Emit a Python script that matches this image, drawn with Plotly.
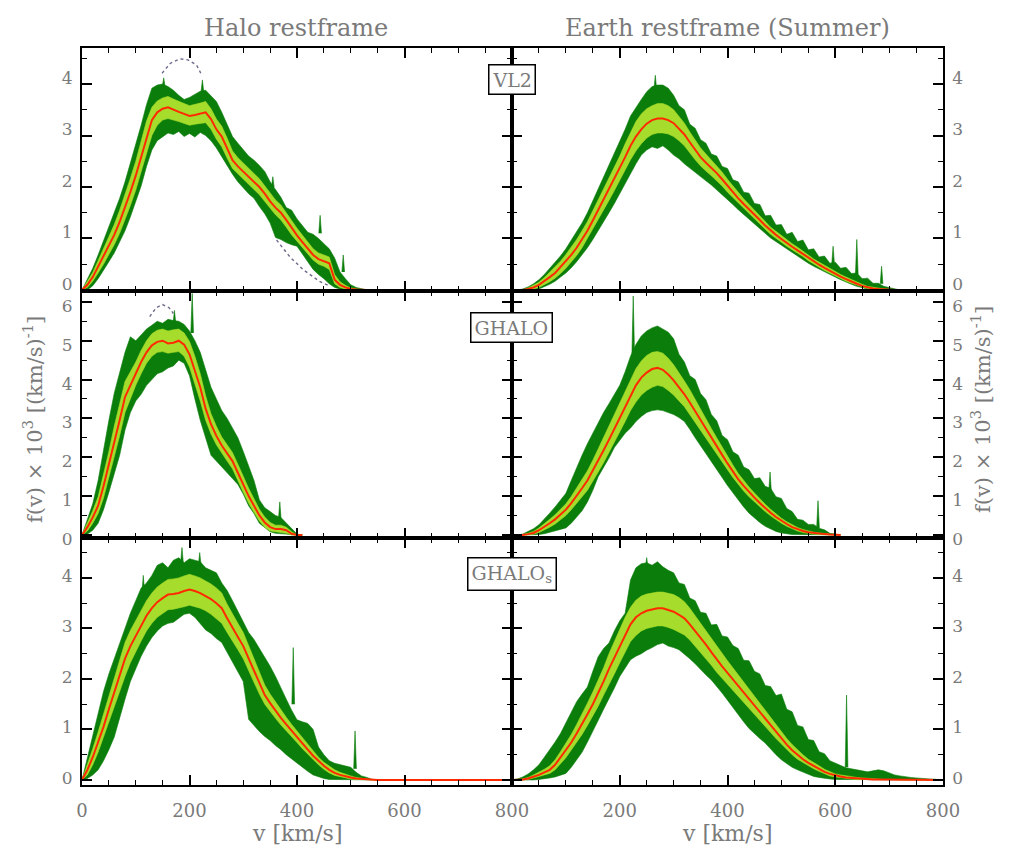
import plotly.graph_objects as go

# velocity grid [km/s]
V = list(range(0, 810, 10))

# ---------------- VL2, halo restframe ----------------
vl2_halo_med = [0.00,0.10,0.25,0.45,0.65,0.85,1.07,1.32,1.60,1.90,
 2.22,2.58,2.98,3.30,3.45,3.52,3.55,3.50,3.46,3.42,
 3.38,3.40,3.43,3.45,3.32,3.12,2.98,2.75,2.52,2.40,
 2.30,2.20,2.10,2.00,1.87,1.72,1.60,1.50,1.36,1.20,
 1.06,0.93,0.80,0.68,0.60,0.56,0.52,0.20,0.10,0.05,
 0.02,0.01,0.00,0.00,0.00]
vl2_halo_in_lo = [0,0.05,0.17,0.33,0.5,0.68,0.88,1.1,1.36,1.64,
 1.94,2.28,2.65,3.0,3.2,3.3,3.33,3.3,3.27,3.24,
 3.2,3.22,3.24,3.25,3.12,2.93,2.78,2.56,2.36,2.25,
 2.15,2.05,1.95,1.85,1.72,1.58,1.46,1.36,1.22,1.07,
 0.94,0.82,0.7,0.58,0.5,0.46,0.4,0.12,0.05,0.02,
 0.01,0,0,0,0]
vl2_halo_in_hi = [0,0.16,0.34,0.57,0.8,1.03,1.27,1.55,1.85,2.17,
 2.5,2.88,3.28,3.55,3.67,3.73,3.76,3.71,3.66,3.62,
 3.58,3.6,3.63,3.66,3.52,3.32,3.18,2.95,2.7,2.57,
 2.46,2.36,2.26,2.16,2.03,1.88,1.75,1.65,1.51,1.35,
 1.2,1.06,0.92,0.8,0.72,0.68,0.64,0.3,0.16,0.09,
 0.04,0.02,0,0,0]
vl2_halo_out_lo = [0,0.0,0.08,0.22,0.38,0.55,0.72,0.93,1.15,1.42,
 1.7,2.02,2.4,2.72,2.9,2.98,3.05,3.02,3.08,2.98,
 3.04,2.97,3.06,3.0,2.9,2.76,2.6,2.42,2.25,2.1,
 1.98,1.87,1.78,1.62,1.48,1.3,1.02,0.98,0.92,0.88,
 0.85,0.7,0.55,0.4,0.3,0.22,0.12,0.05,0.02,0,
 0,0,0,0,0]
vl2_halo_out_hi = [0,0.2,0.42,0.68,0.95,1.2,1.48,1.78,2.1,2.45,
 2.82,3.2,3.6,3.92,3.98,4.0,3.95,3.88,3.78,3.7,
 3.74,3.8,3.86,3.88,3.78,3.66,3.45,3.2,2.98,2.85,
 2.72,2.6,2.52,2.42,2.3,2.1,1.95,1.8,1.6,1.55,
 1.38,1.25,1.12,1.08,1.0,0.9,0.8,0.62,0.35,0.22,
 0.1,0.05,0.02,0,0]
vl2_halo_spike_v = [152, 224, 355, 443, 486]
vl2_halo_spike_base = [3.95, 3.85, 2.0, 1.1, 0.35]
vl2_halo_spike_top = [4.12, 4.08, 2.2, 1.45, 0.68]
vl2_fit_v1 = [149, 164, 182, 197, 213, 221]
vl2_fit_f1 = [4.21, 4.40, 4.49, 4.47, 4.37, 4.21]
vl2_fit_v2 = [362, 387, 412, 443, 460]
vl2_fit_f2 = [0.97, 0.64, 0.39, 0.16, 0.08]

# ---------------- VL2, Earth restframe ----------------
vl2_earth_med = [0,0,0,0.02,0.05,0.1,0.17,0.25,0.33,0.44,
 0.55,0.68,0.82,0.98,1.15,1.35,1.55,1.75,1.95,2.15,
 2.35,2.58,2.8,2.98,3.12,3.23,3.3,3.33,3.33,3.3,
 3.24,3.14,3.02,2.87,2.72,2.58,2.47,2.37,2.27,2.15,
 2.02,1.9,1.78,1.67,1.57,1.46,1.36,1.25,1.15,1.07,
 0.99,0.91,0.84,0.77,0.70,0.62,0.55,0.49,0.43,0.37,
 0.31,0.26,0.21,0.16,0.12,0.08,0.05,0.03,0.02,0.01,
 0,0,0]
vl2_earth_in_lo = [0,0,0,0,0.02,0.05,0.1,0.16,0.23,0.32,
 0.42,0.54,0.67,0.82,0.98,1.17,1.36,1.55,1.74,1.93,
 2.12,2.33,2.53,2.7,2.84,2.95,3.02,3.05,3.05,3.03,
 2.98,2.9,2.8,2.67,2.53,2.41,2.31,2.22,2.13,2.02,
 1.9,1.79,1.68,1.58,1.48,1.38,1.28,1.18,1.08,1.0,
 0.93,0.85,0.78,0.71,0.65,0.57,0.5,0.44,0.38,0.33,
 0.27,0.22,0.17,0.13,0.09,0.06,0.03,0.01,0,0,
 0,0,0]
vl2_earth_in_hi = [0,0,0,0.04,0.09,0.15,0.24,0.34,0.44,0.56,
 0.69,0.83,0.98,1.15,1.33,1.54,1.75,1.96,2.17,2.38,
 2.6,2.84,3.07,3.27,3.42,3.52,3.58,3.62,3.62,3.58,
 3.5,3.38,3.24,3.07,2.91,2.76,2.64,2.53,2.42,2.29,
 2.15,2.02,1.89,1.77,1.66,1.55,1.44,1.33,1.22,1.14,
 1.06,0.97,0.9,0.83,0.76,0.68,0.6,0.54,0.48,0.41,
 0.35,0.3,0.25,0.2,0.15,0.11,0.07,0.05,0.03,0.02,
 0.01,0,0]
vl2_earth_out_lo = [0,0,0,0,0,0.02,0.06,0.11,0.17,0.25,
 0.33,0.43,0.55,0.68,0.82,0.98,1.15,1.32,1.5,1.68,
 1.86,2.05,2.25,2.45,2.62,2.72,2.78,2.75,2.8,2.72,
 2.62,2.55,2.45,2.36,2.28,2.2,2.12,2.04,1.96,1.86,
 1.76,1.66,1.56,1.46,1.37,1.28,1.19,1.1,1.01,0.93,
 0.86,0.79,0.72,0.65,0.59,0.52,0.46,0.4,0.35,0.3,
 0.25,0.2,0.15,0.11,0.07,0.04,0.02,0.01,0,0,
 0,0,0]
vl2_earth_out_hi = [0,0,0.02,0.06,0.12,0.2,0.3,0.42,0.53,0.66,
 0.8,0.96,1.12,1.3,1.5,1.73,1.97,2.2,2.43,2.65,
 2.88,3.12,3.38,3.55,3.7,3.85,3.95,3.98,3.98,3.92,
 3.78,3.58,3.5,3.22,3.14,2.92,2.85,2.64,2.6,2.4,
 2.36,2.14,2.1,1.9,1.88,1.68,1.66,1.44,1.45,1.26,
 1.27,1.08,1.12,0.94,0.97,0.78,0.8,0.64,0.66,0.52,
 0.54,0.42,0.44,0.32,0.33,0.22,0.23,0.13,0.13,0.07,
 0.05,0.02,0.01]
vl2_earth_spike_v = [266, 596, 640, 686]
vl2_earth_spike_base = [3.9, 0.5, 0.3, 0.12]
vl2_earth_spike_top = [4.17, 0.85, 0.98, 0.46]

# ---------------- GHALO, halo restframe ----------------
ghalo_halo_med = [0,0.2,0.45,0.75,1.25,1.8,2.4,2.95,3.55,3.85,
 4.15,4.45,4.7,4.88,4.97,5.0,4.93,4.95,5.0,4.9,
 4.65,4.25,3.8,3.25,2.85,2.55,2.3,2.1,1.9,1.6,
 1.3,1.0,0.75,0.5,0.32,0.2,0.15,0.15,0.12,0.03,
 0,0]
ghalo_halo_in_lo = [0,0.1,0.3,0.55,0.95,1.45,2.0,2.55,3.15,3.5,
 3.85,4.15,4.42,4.6,4.7,4.72,4.68,4.7,4.72,4.6,
 4.32,3.9,3.45,2.95,2.6,2.32,2.1,1.9,1.7,1.4,
 1.1,0.82,0.58,0.36,0.2,0.1,0.07,0.06,0.04,0,
 0,0]
ghalo_halo_in_hi = [0,0.3,0.62,0.98,1.55,2.15,2.8,3.35,3.95,4.2,
 4.45,4.75,5.0,5.18,5.27,5.3,5.25,5.28,5.3,5.2,
 4.98,4.6,4.15,3.58,3.12,2.8,2.52,2.32,2.12,1.82,
 1.5,1.2,0.93,0.66,0.46,0.32,0.25,0.25,0.2,0.08,
 0,0]
ghalo_halo_out_lo = [0,0.02,0.12,0.3,0.65,1.1,1.55,2.05,2.7,3.15,
 3.45,3.62,3.85,4.0,4.15,4.2,4.3,4.35,4.5,4.42,
 4.1,3.5,2.95,2.5,2.05,1.9,1.75,1.6,1.45,1.3,
 1.05,0.75,0.55,0.3,0.18,0.08,0.04,0.03,0.02,0,
 0,0]
ghalo_halo_out_hi = [0,0.4,0.8,1.4,2.2,2.95,3.65,4.15,4.7,5.1,
 5.0,5.15,5.3,5.4,5.5,5.45,5.55,5.52,5.5,5.42,
 5.25,5.0,4.7,4.25,3.8,3.5,3.2,3.0,2.75,2.5,
 2.15,1.75,1.4,0.9,0.7,0.6,0.5,0.45,0.3,0.15,
 0.02,0]
ghalo_halo_spike_v = [172, 205, 368]
ghalo_halo_spike_base = [5.45, 5.2, 0.4]
ghalo_halo_spike_top = [5.78, 6.22, 0.85]
ghalo_fit_v = [126, 138, 150, 162, 170]
ghalo_fit_f = [5.62, 5.85, 5.93, 5.85, 5.70]

# ---------------- GHALO, Earth restframe ----------------
ghalo_earth_med = [0,0,0,0.02,0.05,0.12,0.2,0.3,0.4,0.52,
 0.65,0.82,1.0,1.2,1.4,1.65,1.92,2.18,2.45,2.73,
 3.02,3.32,3.6,3.85,4.05,4.18,4.27,4.3,4.25,4.13,
 3.98,3.81,3.62,3.41,3.18,2.95,2.72,2.5,2.28,2.06,
 1.84,1.63,1.43,1.26,1.1,0.96,0.82,0.69,0.57,0.46,
 0.36,0.28,0.2,0.14,0.1,0.07,0.05,0.03,0.02,0.01,
 0.01,0]
ghalo_earth_in_lo = [0,0,0,0,0.02,0.06,0.12,0.2,0.28,0.38,
 0.5,0.65,0.8,0.98,1.15,1.38,1.62,1.86,2.12,2.38,
 2.65,2.92,3.2,3.42,3.6,3.72,3.8,3.85,3.82,3.72,
 3.6,3.45,3.3,3.1,2.9,2.7,2.48,2.28,2.08,1.88,
 1.68,1.48,1.3,1.13,0.98,0.85,0.72,0.6,0.49,0.39,
 0.3,0.22,0.15,0.1,0.06,0.04,0.02,0.01,0,0,
 0,0]
ghalo_earth_in_hi = [0,0,0.01,0.04,0.09,0.18,0.28,0.4,0.52,0.66,
 0.8,0.99,1.2,1.42,1.65,1.92,2.22,2.5,2.8,3.1,
 3.4,3.72,4.02,4.28,4.48,4.62,4.7,4.72,4.68,4.55,
 4.38,4.18,3.96,3.74,3.48,3.22,2.98,2.74,2.5,2.26,
 2.02,1.8,1.58,1.4,1.23,1.08,0.93,0.79,0.66,0.54,
 0.43,0.34,0.26,0.19,0.14,0.1,0.07,0.05,0.03,0.02,
 0.01,0]
ghalo_earth_out_lo = [0,0,0,0,0,0.01,0.03,0.06,0.1,0.14,
 0.18,0.3,0.45,0.62,0.85,1.15,1.5,1.75,1.98,2.25,
 2.45,2.62,2.75,2.92,3.05,3.15,3.2,3.22,3.2,3.15,
 3.1,3.02,2.92,2.72,2.5,2.27,2.08,1.88,1.68,1.48,
 1.27,1.07,0.9,0.72,0.56,0.44,0.32,0.22,0.15,0.09,
 0.05,0.03,0.01,0,0,0,0,0,0,0,
 0,0]
ghalo_earth_out_hi = [0,0,0.02,0.08,0.16,0.26,0.4,0.56,0.72,0.9,
 1.07,1.4,1.75,2.05,2.35,2.62,2.9,3.15,3.38,3.62,
 3.85,4.2,4.6,4.9,5.12,5.25,5.33,5.38,5.3,5.22,
 5.05,4.65,4.45,4.1,4.0,3.64,3.48,3.1,2.94,2.56,
 2.45,2.14,2.05,1.75,1.68,1.45,1.47,1.25,1.2,0.98,
 0.94,0.68,0.6,0.4,0.38,0.27,0.27,0.17,0.13,0.04,
 0.02,0]
ghalo_earth_spike_v = [225, 479, 568]
ghalo_earth_spike_base = [4.6, 1.1, 0.18]
ghalo_earth_spike_top = [6.15, 1.62, 0.88]

# ---------------- GHALO_s, halo restframe ----------------
ghalos_halo_med = [0,0.2,0.45,0.75,1.05,1.4,1.75,2.08,2.4,2.65,
 2.85,3.05,3.25,3.4,3.52,3.6,3.67,3.68,3.7,3.74,
 3.77,3.74,3.7,3.64,3.58,3.5,3.4,3.2,3.0,2.83,
 2.65,2.4,2.15,1.9,1.68,1.52,1.37,1.23,1.1,0.97,
 0.85,0.72,0.6,0.48,0.37,0.28,0.2,0.14,0.1,0.07,
 0.05,0.03,0.02,0.01,0,0,0,0,0,0,
 0,0,0,0,0,0,0,0,0,0,
 0,0,0,0,0,0,0,0,0,0,0]
ghalos_halo_in_lo = [0,0.1,0.3,0.55,0.82,1.12,1.45,1.75,2.05,2.32,
 2.55,2.75,2.95,3.1,3.22,3.3,3.37,3.38,3.4,3.43,
 3.46,3.43,3.4,3.35,3.28,3.2,3.1,2.92,2.74,2.58,
 2.4,2.17,1.93,1.7,1.5,1.35,1.22,1.09,0.97,0.85,
 0.74,0.62,0.51,0.4,0.3,0.21,0.14,0.09,0.06,0.04,
 0.02,0.01,0,0,0,0]
ghalos_halo_in_hi = [0,0.3,0.62,0.95,1.3,1.68,2.05,2.4,2.72,2.96,
 3.15,3.35,3.55,3.7,3.82,3.9,3.97,3.98,4.0,4.04,
 4.07,4.04,4.0,3.94,3.88,3.8,3.7,3.48,3.28,3.1,
 2.92,2.65,2.38,2.12,1.88,1.7,1.54,1.38,1.24,1.1,
 0.97,0.83,0.7,0.57,0.45,0.35,0.27,0.2,0.15,0.11,
 0.08,0.05,0.03,0.01,0,0]
ghalos_halo_out_lo = [0,0.03,0.1,0.2,0.38,0.6,0.85,1.2,1.6,1.95,
 2.2,2.45,2.65,2.82,2.95,3.05,3.1,3.12,3.2,3.28,
 3.3,3.22,3.1,2.97,2.9,2.8,2.72,2.55,2.35,2.15,
 1.95,1.2,1.08,0.96,0.86,0.78,0.68,0.6,0.5,0.42,
 0.33,0.25,0.17,0.1,0.06,0.03,0.01,0,0,0,
 0,0,0,0,0,0]
ghalos_halo_out_hi = [0,0.45,0.9,1.35,1.75,2.1,2.4,2.7,3.0,3.3,
 3.55,3.8,3.9,4.05,4.25,4.3,4.2,4.35,4.4,4.3,
 4.38,4.35,4.32,4.2,4.15,4.1,3.9,3.75,3.55,3.35,
 3.15,2.92,2.78,2.6,2.44,2.25,2.05,1.84,1.6,1.38,
 1.19,1.15,1.12,1.0,0.65,0.5,0.38,0.33,0.3,0.28,
 0.25,0.15,0.08,0.05,0.01,0]
ghalos_halo_spike_v = [114, 186, 219, 393, 508]
ghalos_halo_spike_base = [3.7, 4.3, 4.25, 1.5, 0.22]
ghalos_halo_spike_top = [4.05, 4.6, 4.5, 2.62, 0.97]

# ---------------- GHALO_s, Earth restframe ----------------
ghalos_earth_med = [0,0,0.01,0.03,0.06,0.1,0.15,0.2,0.3,0.44,
 0.58,0.74,0.92,1.1,1.3,1.5,1.72,1.95,2.2,2.42,
 2.65,2.88,3.08,3.22,3.3,3.35,3.38,3.4,3.4,3.37,
 3.33,3.27,3.2,3.08,2.95,2.82,2.68,2.53,2.38,2.25,
 2.12,1.99,1.86,1.72,1.6,1.47,1.34,1.22,1.08,0.95,
 0.82,0.7,0.59,0.49,0.41,0.34,0.28,0.22,0.16,0.12,
 0.09,0.07,0.05,0.04,0.03,0.02,0.02,0.01,0.01,0.01,
 0,0,0,0,0,0,0,0,0,0,0]
ghalos_earth_in_lo = [0,0,0,0.01,0.03,0.06,0.1,0.13,0.2,0.32,
 0.44,0.58,0.74,0.9,1.08,1.26,1.46,1.68,1.9,2.1,
 2.32,2.54,2.74,2.86,2.95,3.0,3.03,3.05,3.05,3.02,
 2.98,2.93,2.87,2.77,2.65,2.53,2.4,2.27,2.13,2.01,
 1.89,1.77,1.65,1.52,1.41,1.29,1.17,1.06,0.94,0.82,
 0.7,0.6,0.5,0.41,0.34,0.28,0.22,0.17,0.12,0.08,
 0.06,0.04,0.03,0.02,0.01,0.01,0,0,0,0,
 0,0,0,0,0,0,0,0,0,0,0]
ghalos_earth_in_hi = [0,0,0.02,0.05,0.1,0.15,0.21,0.28,0.4,0.56,
 0.72,0.9,1.1,1.3,1.52,1.74,1.98,2.22,2.5,2.74,
 2.98,3.22,3.42,3.56,3.64,3.68,3.7,3.72,3.72,3.7,
 3.67,3.61,3.53,3.4,3.25,3.11,2.96,2.8,2.64,2.5,
 2.36,2.22,2.08,1.93,1.8,1.66,1.52,1.39,1.23,1.09,
 0.95,0.82,0.7,0.59,0.5,0.41,0.35,0.28,0.21,0.16,
 0.12,0.1,0.08,0.06,0.05,0.04,0.03,0.02,0.02,0.01,
 0.01,0,0,0,0,0,0,0,0,0,0]
ghalos_earth_out_lo = [0,0,0,0,0,0.01,0.02,0.04,0.06,0.09,
 0.13,0.25,0.4,0.55,0.75,0.95,1.18,1.4,1.62,1.82,
 2.05,2.22,2.38,2.45,2.5,2.57,2.62,2.68,2.71,2.65,
 2.62,2.58,2.5,2.4,2.3,2.2,2.08,1.98,1.86,1.72,
 1.58,1.45,1.3,1.15,1.02,0.92,0.82,0.73,0.62,0.5,
 0.4,0.32,0.25,0.2,0.16,0.11,0.07,0.05,0.03,0.02,
 0.01,0,0,0,0,0,0,0,0,0,
 0,0,0,0,0,0,0,0,0,0,0]
ghalos_earth_out_hi = [0,0.02,0.06,0.12,0.2,0.3,0.45,0.59,0.75,0.92,
 1.13,1.35,1.55,1.7,1.84,2.15,2.44,2.6,2.71,2.95,
 3.15,3.3,3.96,4.2,4.28,4.3,4.25,4.32,4.22,4.15,
 4.1,3.9,3.87,3.6,3.55,3.32,3.3,3.07,3.08,2.85,
 2.83,2.66,2.6,2.37,2.36,2.15,2.1,1.87,1.85,1.67,
 1.7,1.4,1.35,1.08,1.05,0.8,0.78,0.56,0.52,0.38,
 0.33,0.28,0.24,0.22,0.2,0.18,0.16,0.18,0.2,0.18,
 0.14,0.1,0.08,0.06,0.05,0.04,0.03,0.03,0.02,0.01,0]
ghalos_earth_spike_v = [250, 621]
ghalos_earth_spike_base = [4.2, 0.25]
ghalos_earth_spike_top = [4.4, 1.68]

# labels
col_titles = ["Halo restframe", "Earth restframe (Summer)"]
row_labels = ["VL2", "GHALO", "GHALO<sub>s</sub>"]
x_title = "v [km/s]"
y_title = "f(v) × 10<sup>3</sup> [(km/s)<sup>-1</sup>]"
x_tickvals = [0, 200, 400, 600, 800]
x_ticktext_left = ["0", "200", "400", "600", "800"]
x_ticktext_right = ["", "200", "400", "600", "800"]
y_tickvals_rows = [[0, 1, 2, 3, 4], [0, 1, 2, 3, 4, 5, 6], [0, 1, 2, 3, 4]]

panels = [
    (vl2_halo_med, vl2_halo_in_lo, vl2_halo_in_hi, vl2_halo_out_lo, vl2_halo_out_hi,
     vl2_halo_spike_v, vl2_halo_spike_base, vl2_halo_spike_top),
    (vl2_earth_med, vl2_earth_in_lo, vl2_earth_in_hi, vl2_earth_out_lo, vl2_earth_out_hi,
     vl2_earth_spike_v, vl2_earth_spike_base, vl2_earth_spike_top),
    (ghalo_halo_med, ghalo_halo_in_lo, ghalo_halo_in_hi, ghalo_halo_out_lo, ghalo_halo_out_hi,
     ghalo_halo_spike_v, ghalo_halo_spike_base, ghalo_halo_spike_top),
    (ghalo_earth_med, ghalo_earth_in_lo, ghalo_earth_in_hi, ghalo_earth_out_lo, ghalo_earth_out_hi,
     ghalo_earth_spike_v, ghalo_earth_spike_base, ghalo_earth_spike_top),
    (ghalos_halo_med, ghalos_halo_in_lo, ghalos_halo_in_hi, ghalos_halo_out_lo, ghalos_halo_out_hi,
     ghalos_halo_spike_v, ghalos_halo_spike_base, ghalos_halo_spike_top),
    (ghalos_earth_med, ghalos_earth_in_lo, ghalos_earth_in_hi, ghalos_earth_out_lo, ghalos_earth_out_hi,
     ghalos_earth_spike_v, ghalos_earth_spike_base, ghalos_earth_spike_top),
]
fits = {0: [(vl2_fit_v1, vl2_fit_f1), (vl2_fit_v2, vl2_fit_f2)], 2: [(ghalo_fit_v, ghalo_fit_f)]}

DARK = "#0a7d0a"
LIGHT = "#a6dd2c"
RED = "#ff2a00"
FIT = "#6f6a8a"
GRAY = "#7a7a7a"
FONT = "DejaVu Serif"

W, H = 1018, 847
XD = [[82 / W, 512 / W], [512 / W, 943 / W]]
YD = [[1 - 291 / H, 1 - 48 / H], [1 - 538 / H, 1 - 291 / H], [1 - 785 / H, 1 - 538 / H]]
YR = [[-0.02, 4.70], [-0.08, 6.28], [-0.10, 4.79]]
Y_SHIFT = [-6, 4, -2]

fig = go.Figure()


def add_poly(xs, ys, color, xa, ya):
    fig.add_trace(go.Scatter(x=xs, y=ys, mode="lines", fill="toself", fillcolor=color,
                             line=dict(width=0.6, color=color), xaxis=xa, yaxis=ya,
                             hoverinfo="skip", showlegend=False))


for p, (med, ilo, ihi, olo, ohi, sv, sb, st) in enumerate(panels):
    k = "" if p == 0 else str(p + 1)
    xa, ya = "x" + k, "y" + k
    n = len(ohi)
    add_poly(V[:n] + V[:n][::-1], list(ohi) + list(olo)[::-1], DARK, xa, ya)
    for v0, b0, t0 in zip(sv, sb, st):
        add_poly([v0 - 2.5, v0, v0 + 2.5], [b0, t0, b0], DARK, xa, ya)
    n = len(ihi)
    add_poly(V[:n] + V[:n][::-1], list(ihi) + list(ilo)[::-1], LIGHT, xa, ya)
    fig.add_trace(go.Scatter(x=V[:len(med)], y=med, mode="lines",
                             line=dict(color=RED, width=2), xaxis=xa, yaxis=ya,
                             hoverinfo="skip", showlegend=False))
    for fv, ff in fits.get(p, []):
        fig.add_trace(go.Scatter(x=fv, y=ff, mode="lines", line=dict(color=FIT, width=1.4, dash="dot"),
                                 xaxis=xa, yaxis=ya, hoverinfo="skip", showlegend=False))

tickfont = dict(family=FONT, size=18, color=GRAY)
ytickfont = dict(family=FONT, size=17, color=GRAY)
layout_axes = {}
for p in range(6):
    r, c = divmod(p, 2)
    k = "" if p == 0 else str(p + 1)
    layout_axes["xaxis" + k] = dict(
        domain=XD[c], range=[0, 800], anchor="y" + k, showline=True, mirror="allticks",
        linecolor="black", linewidth=1.8, ticks="inside", ticklen=10, tickwidth=1.5, tickcolor="black",
        tickmode="array", tickvals=x_tickvals,
        ticktext=x_ticktext_left if c == 0 else x_ticktext_right,
        showticklabels=(r == 2), tickfont=tickfont, ticklabelstandoff=8,
        minor=dict(tickmode="linear", tick0=0, dtick=50, ticks="inside", ticklen=5,
                   tickwidth=1.2, tickcolor="black"),
        showgrid=False, zeroline=False, fixedrange=True, automargin=False)
    layout_axes["yaxis" + k] = dict(
        domain=YD[r], range=YR[r], anchor="x" + k, side="left" if c == 0 else "right",
        showline=True, mirror="allticks", linecolor="black", linewidth=1.8,
        ticks="inside", ticklen=10, tickwidth=1.5, tickcolor="black",
        tickmode="array", tickvals=y_tickvals_rows[r], tickfont=ytickfont,
        ticklabelstandoff=4, ticklabelshift=Y_SHIFT[r],
        minor=dict(tickmode="linear", tick0=0, dtick=0.5, ticks="inside", ticklen=5,
                   tickwidth=1.2, tickcolor="black"),
        showgrid=False, zeroline=False, fixedrange=True, automargin=False)


def ann(text, x, y, size, angle=0, **kw):
    d = dict(text=text, x=x, y=y, xref="paper", yref="paper", showarrow=False,
             xanchor="center", yanchor="middle", textangle=angle,
             font=dict(family=FONT, size=size, color=GRAY))
    d.update(kw)
    return d


annotations = [
    ann(col_titles[0], 296 / W, 1 - 28 / H, 24),
    ann(col_titles[1], 727 / W, 1 - 28 / H, 24),
    ann(x_title, 297 / W, 1 - 833 / H, 22),
    ann(x_title, 727 / W, 1 - 833 / H, 22),
    ann(y_title, 33 / W, 1 - 420 / H, 21, angle=-90),
    ann(y_title, 981 / W, 1 - 410 / H, 21, angle=-90),
]
box_y = [80, 328, 574]
for lab, by in zip(row_labels, box_y):
    annotations.append(ann(lab, 512 / W, 1 - by / H, 19, bgcolor="white", bordercolor="black",
                           borderwidth=1.5, borderpad=3))

fig.update_layout(width=W, height=H, margin=dict(l=0, r=0, t=0, b=0, autoexpand=False),
                  paper_bgcolor="white", plot_bgcolor="white",
                  annotations=annotations, showlegend=False, **layout_axes)

fig.write_html("out.html")
